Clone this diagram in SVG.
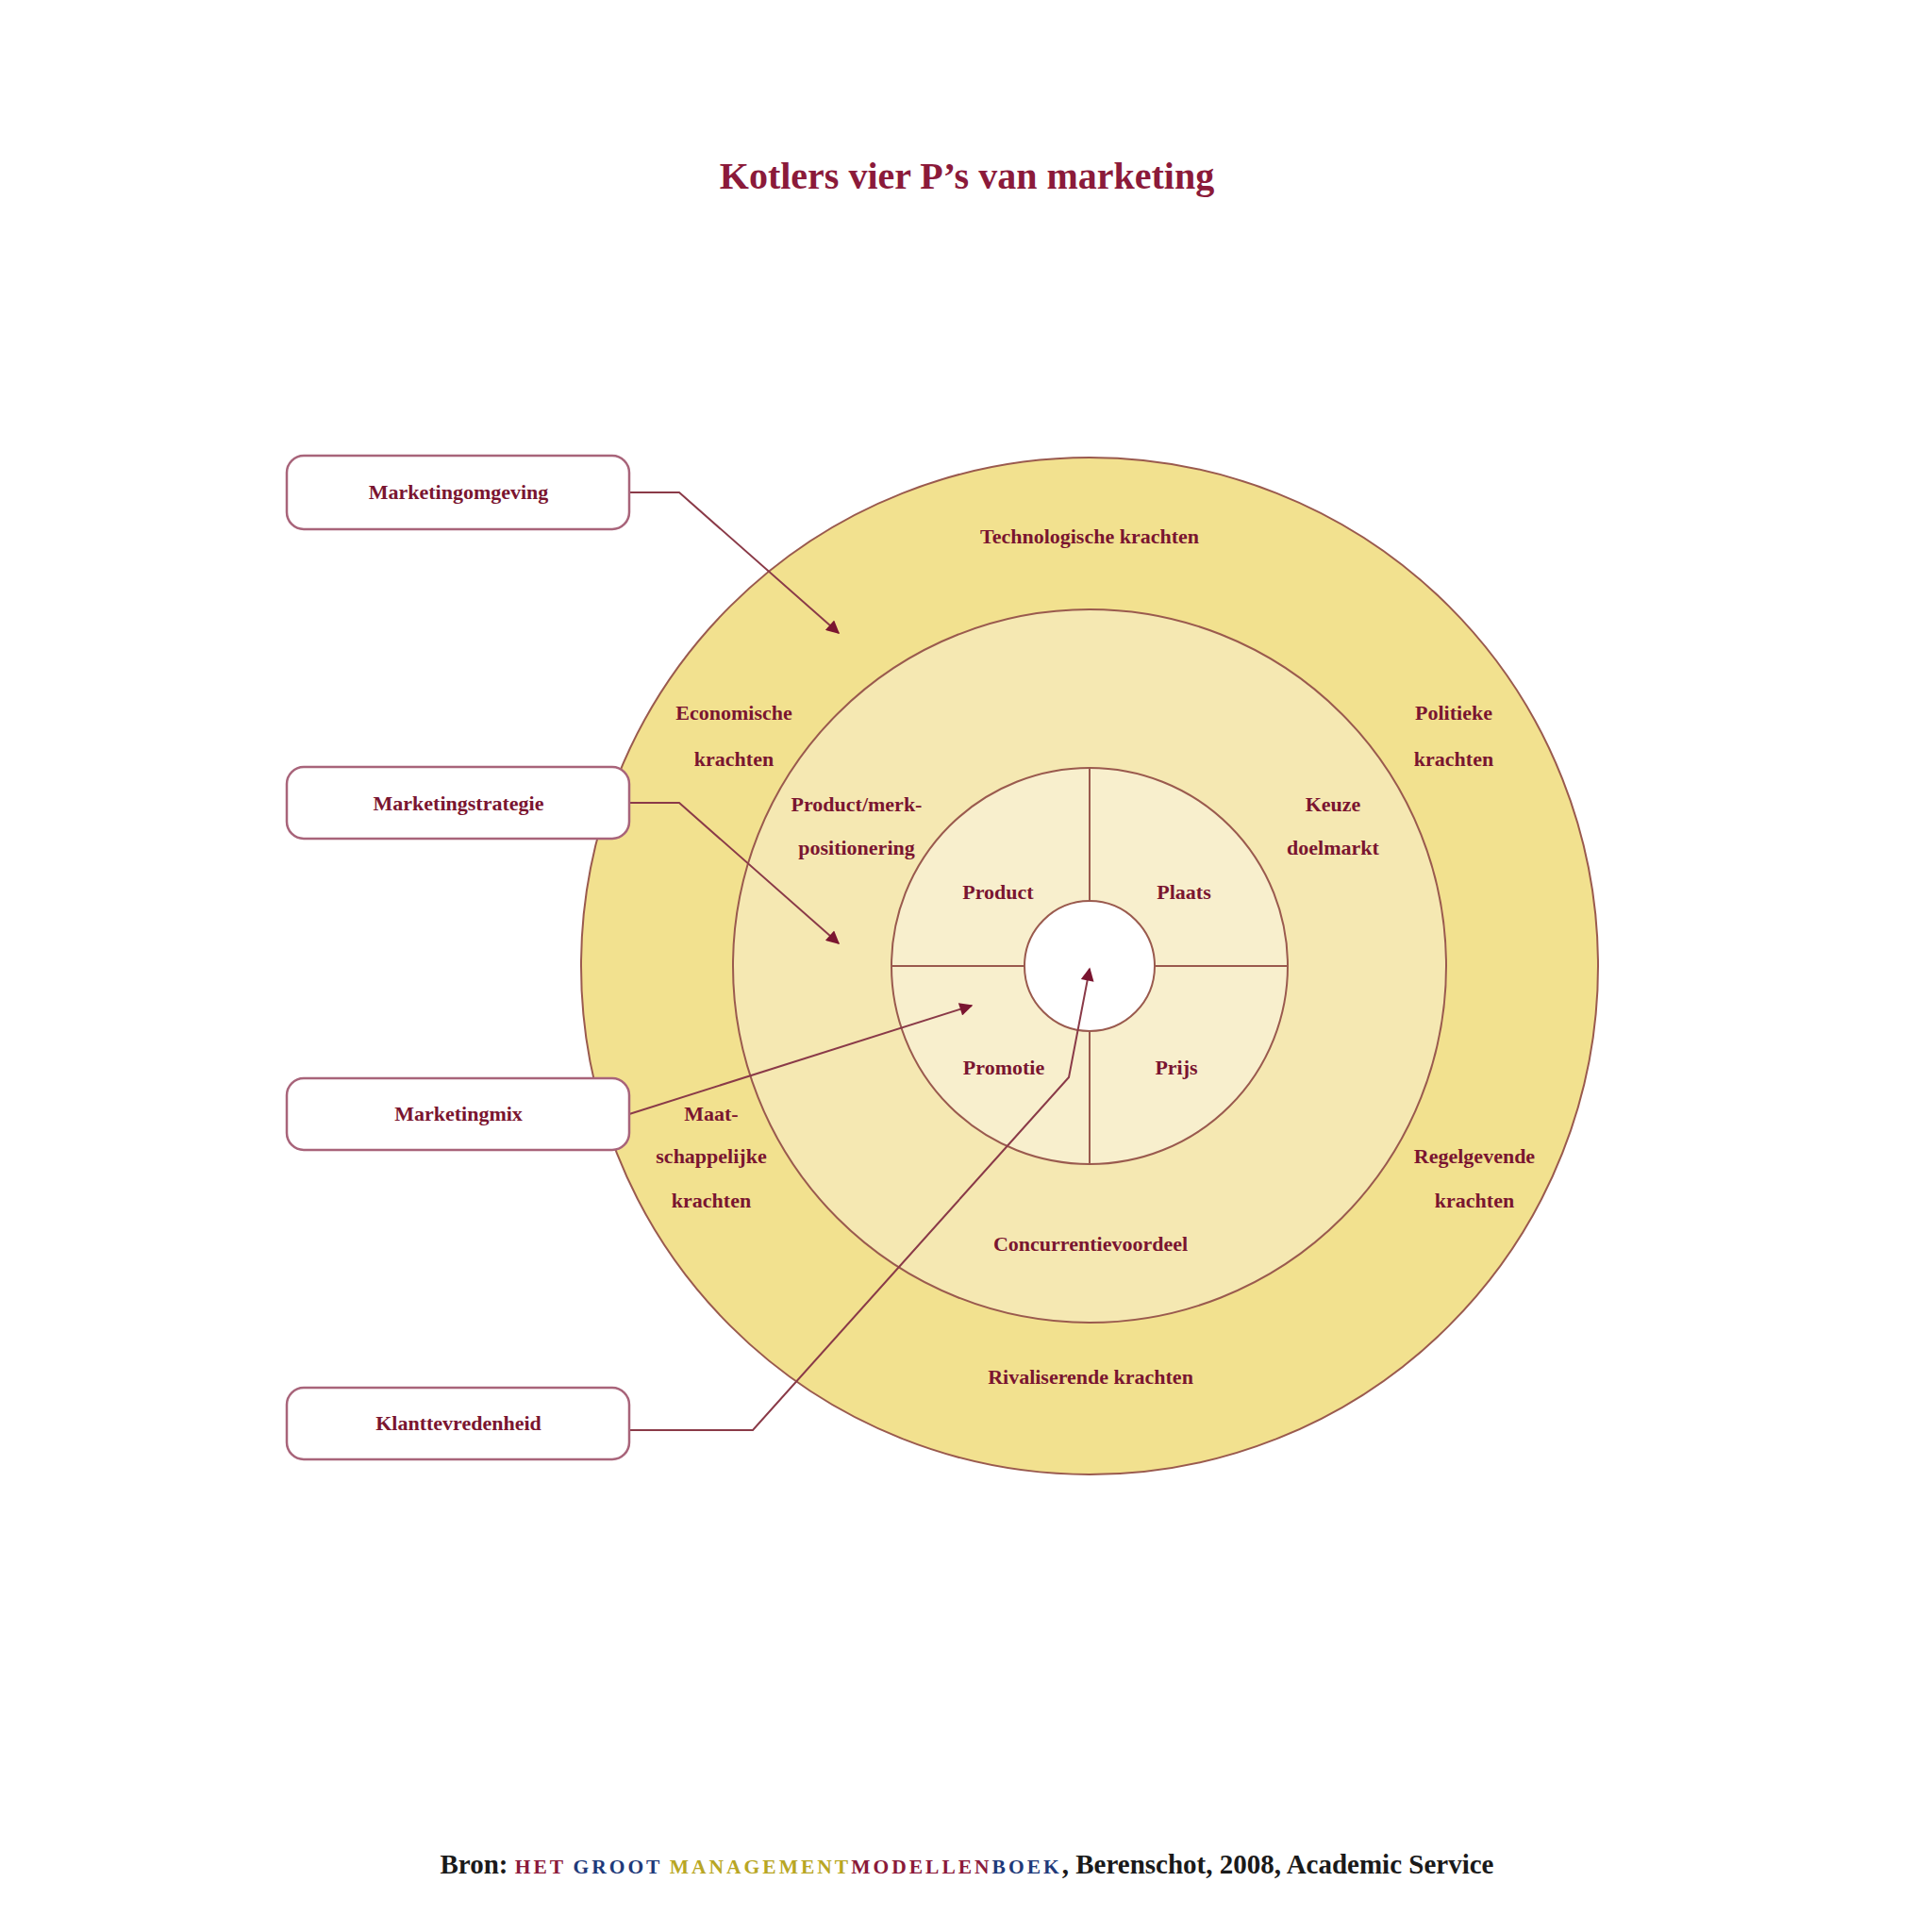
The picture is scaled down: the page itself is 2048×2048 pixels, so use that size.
<svg xmlns="http://www.w3.org/2000/svg" width="2048" height="2048" viewBox="0 0 2048 2048">
<style>
.lbl{font-family:"Liberation Serif","Times New Roman",serif;font-weight:bold;font-size:22px;fill:#7A1530;text-anchor:middle}
.box{fill:#FFFFFF;stroke:#A8647A;stroke-width:2.5}
.ring{stroke:#9A5A4E;stroke-width:2}
.conn{fill:none;stroke:#8A3A48;stroke-width:2}
.sc{font-size:21.5px;letter-spacing:3px}
</style>
<defs>
<marker id="arr" viewBox="0 0 10 10" refX="9" refY="5" markerWidth="7.5" markerHeight="7" orient="auto" markerUnits="strokeWidth">
<path d="M0,0 L10,5 L0,10 z" fill="#7A1530"/>
</marker>
</defs>
<rect width="2048" height="2048" fill="#FFFFFF"/>
<text x="1025" y="200" font-family="'Liberation Serif','Times New Roman',serif" font-weight="bold" font-size="40" fill="#8B1A3A" text-anchor="middle">Kotlers vier P’s van marketing</text>

<g id="circles">
<circle cx="1155" cy="1024" r="539" fill="#F2E18F" class="ring"/>
<circle cx="1155" cy="1024" r="378" fill="#F5E8B2" class="ring"/>
<circle cx="1155" cy="1024" r="210" fill="#F8EFCD" class="ring"/>
<circle cx="1155" cy="1024" r="69" fill="#FFFFFF" class="ring"/>
<line x1="1155" y1="814" x2="1155" y2="955" class="ring"/>
<line x1="1155" y1="1093" x2="1155" y2="1234" class="ring"/>
<line x1="945" y1="1024" x2="1086" y2="1024" class="ring"/>
<line x1="1224" y1="1024" x2="1365" y2="1024" class="ring"/>
</g>

<g id="ring-labels">
<text class="lbl" x="1155" y="576">Technologische krachten</text>
<text class="lbl" x="778" y="763">Economische</text>
<text class="lbl" x="778" y="812">krachten</text>
<text class="lbl" x="1541" y="763">Politieke</text>
<text class="lbl" x="1541" y="812">krachten</text>
<text class="lbl" x="908" y="860">Product/merk-</text>
<text class="lbl" x="908" y="906">positionering</text>
<text class="lbl" x="1413" y="860">Keuze</text>
<text class="lbl" x="1413" y="906">doelmarkt</text>
<text class="lbl" x="1058" y="953">Product</text>
<text class="lbl" x="1255" y="953">Plaats</text>
<text class="lbl" x="1064" y="1139">Promotie</text>
<text class="lbl" x="1247" y="1139">Prijs</text>
<text class="lbl" x="754" y="1188">Maat-</text>
<text class="lbl" x="754" y="1233">schappelijke</text>
<text class="lbl" x="754" y="1280">krachten</text>
<text class="lbl" x="1563" y="1233">Regelgevende</text>
<text class="lbl" x="1563" y="1280">krachten</text>
<text class="lbl" x="1156" y="1326">Concurrentievoordeel</text>
<text class="lbl" x="1156" y="1467">Rivaliserende krachten</text>
</g>

<g id="connectors">
<polyline class="conn" points="667,522 720,522 889,671" marker-end="url(#arr)"/>
<polyline class="conn" points="667,851 720,851 889,1000" marker-end="url(#arr)"/>
<polyline class="conn" points="667,1181 1030,1066" marker-end="url(#arr)"/>
<polyline class="conn" points="667,1516 798,1516 1133,1142 1155,1027" marker-end="url(#arr)"/>
</g>

<g id="node-marketingomgeving">
<rect class="box" x="304" y="483" width="363" height="78" rx="18"/>
<text class="lbl" x="486" y="529">Marketingomgeving</text>
</g>
<g id="node-marketingstrategie">
<rect class="box" x="304" y="813" width="363" height="76" rx="18"/>
<text class="lbl" x="486" y="859">Marketingstrategie</text>
</g>
<g id="node-marketingmix">
<rect class="box" x="304" y="1143" width="363" height="76" rx="18"/>
<text class="lbl" x="486" y="1188">Marketingmix</text>
</g>
<g id="node-klanttevredenheid">
<rect class="box" x="304" y="1471" width="363" height="76" rx="18"/>
<text class="lbl" x="486" y="1516">Klanttevredenheid</text>
</g>

<text x="1025" y="1986" font-family="'Liberation Serif','Times New Roman',serif" font-weight="bold" font-size="29" fill="#1A1A1A" text-anchor="middle">Bron: <tspan class="sc" fill="#8B1A3A">HET</tspan> <tspan class="sc" fill="#1F3A7A">GROOT</tspan> <tspan class="sc" fill="#B8A624">MANAGEMENT</tspan><tspan class="sc" fill="#8B1A3A">MODELLEN</tspan><tspan class="sc" fill="#1F3A7A">BOEK</tspan>, Berenschot, 2008, Academic Service</text>
</svg>
